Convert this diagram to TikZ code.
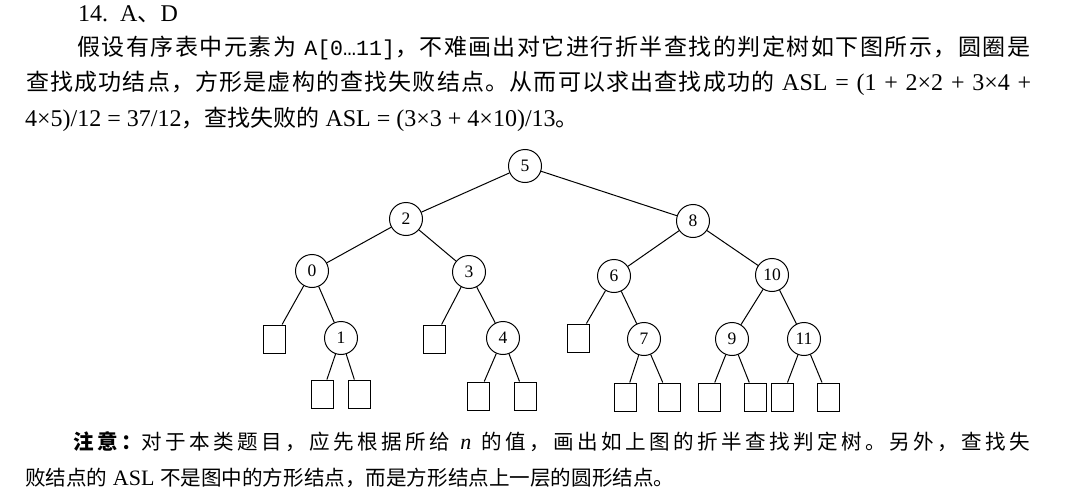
\documentclass[tikz,border=0pt]{standalone}
\usepackage{fontspec}
\usepackage{tikz}
\usetikzlibrary{positioning}
\setmainfont{Liberation Serif}
\setmonofont{Liberation Mono}[Scale=0.9]
\newfontfamily\zhfont{Noto Sans CJK SC}[Scale=0.958]
\newfontfamily\zhnote{Noto Sans CJK SC}[Scale=0.935]
\newcommand\zh[1]{{\zhfont #1}}
\newcommand\zn[1]{{\zhnote #1}}
% stretchable glue between CJK characters
\makeatletter
\chardef\zhclass=7
\chardef\zhpunct=8
\count@="4E00
\loop
  \XeTeXcharclass\count@=\zhclass
  \ifnum\count@<"9FFF \advance\count@ by 1 \repeat
\XeTeXcharclass"FF0C=\zhpunct
\XeTeXcharclass"3002=\zhpunct
\XeTeXcharclass"3001=\zhpunct
\XeTeXcharclass"FF1A=\zhpunct
\makeatother
\XeTeXinterchartokenstate=1
\XeTeXinterchartoks\zhclass\zhclass={\hskip 0pt plus 2pt\relax}
\XeTeXinterchartoks\zhclass\zhpunct={\hskip 0pt plus 2pt\relax}
\XeTeXinterchartoks\zhpunct\zhclass={\hskip 0pt plus 2pt\relax}
\XeTeXinterchartoks\zhpunct\zhpunct={\hskip 0pt plus 2pt\relax}

\begin{document}
\begin{tikzpicture}[x=1pt, y=-1pt,
    key/.style={circle, draw, line width=1pt, minimum size=33pt, inner sep=0pt, font=\fontsize{17.5}{17.5}\selectfont},
    fail/.style={rectangle, draw, line width=1pt, minimum width=22pt, minimum height=28pt, inner sep=0pt},
    branch/.style={line width=1pt},
    txt/.style={anchor=base west, inner sep=0pt, font=\fontsize{24}{30}\selectfont},
    note/.style={anchor=base west, inner sep=0pt, font=\fontsize{22}{30}\selectfont}]
    \useasboundingbox (0,0) rectangle (1066,503);

    % Texte
    \node[txt] (l1) at (78,22) {14.\hspace{12pt}A\zh{、}D};
    \node[txt] (l2) at (77,56) {\makebox[953pt][s]{\zh{假设有序表中元素为} \texttt{A[0…11]}\zh{，不难画出对它进行折半查找的判定树如下图所示，圆圈是}}};
    \node[txt] (l3) at (26,91) {\makebox[1005pt][s]{\zh{查找成功结点，方形是虚构的查找失败结点。从而可以求出查找成功的} ASL = (1 + 2×2 + 3×4 +}};
    \node[txt] (l4) at (25,126) {4×5)/12 = 37/12\zh{，查找失败的} ASL = (3×3 + 4×10)/13\zh{。}};

    % Arbre
    \node[key] (k5) at (525,166) {5};
    \node[key] (k2) at (406,219) {2};
    \node[key] (k8) at (693,221) {8};
    \node[key] (k0) at (312,271) {0};
    \node[key] (k3) at (469,272) {3};
    \node[key] (k6) at (614,276) {6};
    \node[key] (k10) at (772,275) {10};
    \node[key] (k1) at (341,338) {1};
    \node[key] (k4) at (503,338) {4};
    \node[key] (k7) at (644,339) {7};
    \node[key] (k9) at (732,339) {9};
    \node[key] (k11) at (804,339) {11};

    % Noeuds d'échec
    \node[fail] (f1) at (274,339) {};
    \node[fail] (f2) at (322,394) {};
    \node[fail] (f3) at (359,394) {};
    \node[fail] (f4) at (434,339) {};
    \node[fail] (f5) at (478,396) {};
    \node[fail] (f6) at (525,396) {};
    \node[fail] (f7) at (578,338) {};
    \node[fail] (f8) at (625,397) {};
    \node[fail] (f9) at (669,397) {};
    \node[fail] (f10) at (709,397) {};
    \node[fail] (f11) at (755,397) {};
    \node[fail] (f12) at (782,397) {};
    \node[fail] (f13) at (828,397) {};

    \foreach \a/\b in {k5/k2, k5/k8, k2/k0, k2/k3, k8/k6, k8/k10,
        k0/f1, k0/k1, k1/f2, k1/f3, k3/f4, k3/k4, k4/f5, k4/f6,
        k6/f7, k6/k7, k7/f8, k7/f9, k10/k9, k10/k11,
        k9/f10, k9/f11, k11/f12, k11/f13}
        \draw[branch] (\a) -- (\b);

    % Remarque
    \node[note] (n1) at (73,449) {\makebox[957pt][s]{\zn{\bfseries 注意：}\zn{对于本类题目，应先根据所给} \textit{n} \zn{的值，画出如上图的折半查找判定树。另外，查找失}}};
    \node[note] (n2) at (25,485) {\zn{败结点的} ASL \zn{不是图中的方形结点，而是方形结点上一层的圆形结点。}};
\end{tikzpicture}
\end{document}
